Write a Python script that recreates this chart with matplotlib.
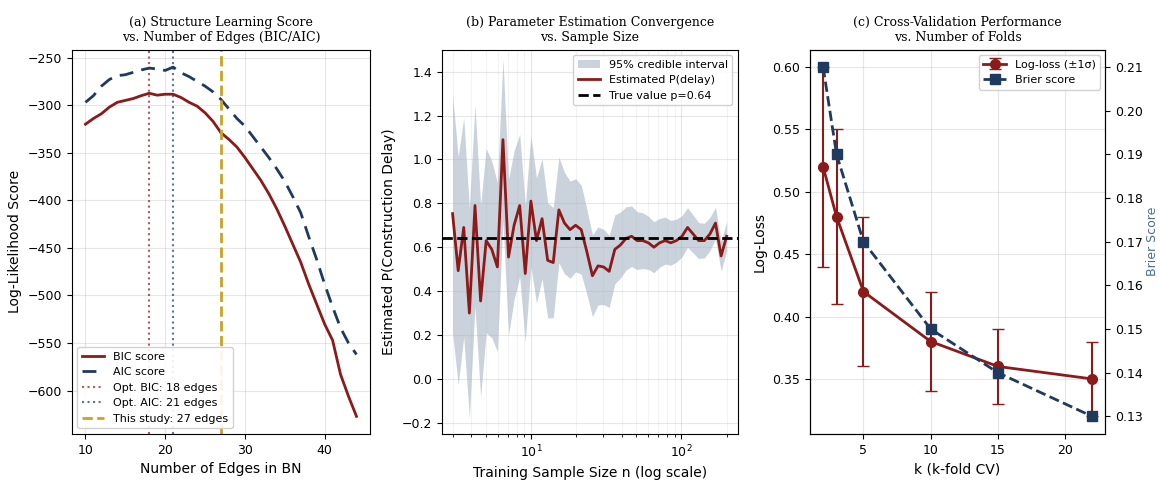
import matplotlib
matplotlib.use("Agg")
import matplotlib.pyplot as plt
from matplotlib.ticker import MultipleLocator
import numpy as np

# ---------------- data ----------------
# (a) structure learning
edges = list(range(10, 45))
bic = [-320, -314, -309, -302, -297, -295, -293, -290, -287.5, -289.5, -288.5, -288.5,
       -292, -297, -301, -308, -317, -329, -336, -344, -355, -367, -379, -393, -409,
       -427, -446, -465, -488, -509, -530, -547, -583, -606, -627]
aic = [-297, -290, -280, -273, -269, -268, -265.5, -263, -261, -262, -263.5, -260,
       -266, -270, -275, -280, -286, -294, -304, -314, -322, -333, -344, -355, -367,
       -380, -396, -413, -438, -462, -488, -512, -534, -550, -562]
opt_bic_edges = 18
opt_aic_edges = 21
study_edges = 27

# (b) parameter estimation convergence
sample_n = [3.00, 3.27, 3.56, 3.88, 4.23, 4.61, 5.02, 5.47, 5.96, 6.49,
            7.07, 7.70, 8.39, 9.14, 9.96, 10.85, 11.82, 12.88, 14.03, 15.29,
            16.66, 18.15, 19.77, 21.54, 23.47, 25.57, 27.86, 30.35, 33.06, 36.03,
            39.25, 42.76, 46.59, 50.76, 55.30, 60.25, 65.64, 71.52, 77.92, 84.89,
            92.48, 100.8, 109.8, 119.6, 130.3, 142.0, 154.7, 168.5, 183.6, 200.0]
p_est = [0.753, 0.493, 0.69, 0.30, 0.79, 0.355, 0.63, 0.59, 0.51, 1.09,
         0.555, 0.70, 0.79, 0.48, 0.81, 0.63, 0.73, 0.54, 0.53, 0.77,
         0.71, 0.68, 0.70, 0.68, 0.58, 0.47, 0.515, 0.51, 0.49, 0.59,
         0.61, 0.64, 0.65, 0.63, 0.63, 0.62, 0.60, 0.62, 0.63, 0.62,
         0.63, 0.65, 0.69, 0.66, 0.63, 0.63, 0.66, 0.71, 0.56, 0.65]
ci_half = [0.543, 0.520, 0.499, 0.478, 0.458, 0.438, 0.420, 0.402, 0.385, 0.369,
           0.354, 0.339, 0.325, 0.311, 0.298, 0.286, 0.274, 0.262, 0.251, 0.241,
           0.231, 0.221, 0.212, 0.203, 0.194, 0.186, 0.178, 0.171, 0.164, 0.157,
           0.150, 0.144, 0.138, 0.132, 0.127, 0.121, 0.116, 0.111, 0.107, 0.102,
           0.098, 0.094, 0.090, 0.086, 0.082, 0.079, 0.076, 0.072, 0.069, 0.067]
true_p = 0.64

# (c) cross-validation
k_folds = [2, 3, 5, 10, 15, 22]
logloss = [0.52, 0.48, 0.42, 0.38, 0.36, 0.35]
logloss_sd = [0.08, 0.07, 0.06, 0.04, 0.03, 0.03]
brier = [0.21, 0.19, 0.17, 0.15, 0.14, 0.13]

# ---------------- style ----------------
RED = "#8B1A1A"
NAVY = "#1F3A5F"
GOLD = "#C9A227"
plt.rcParams["font.family"] = ["DejaVu Sans"]
plt.rcParams["font.size"] = 9
title_font = dict(family="DejaVu Serif", fontsize=9)

fig = plt.figure(figsize=(11.6, 4.82), dpi=100)
ax1 = fig.add_axes([0.062, 0.100, 0.257, 0.797])
ax2 = fig.add_axes([0.381, 0.100, 0.255, 0.797])
ax3 = fig.add_axes([0.698, 0.100, 0.255, 0.797])

# ---------------- (a) ----------------
ax1.plot(edges, bic, color=RED, lw=2, label="BIC score")
ax1.plot(edges, aic, color=NAVY, lw=2, ls=(0, (5, 3)), label="AIC score")
ax1.axvline(opt_bic_edges, color=RED, ls=":", lw=1.5, alpha=0.7,
            label=f"Opt. BIC: {opt_bic_edges} edges")
ax1.axvline(opt_aic_edges, color=NAVY, ls=":", lw=1.5, alpha=0.7,
            label=f"Opt. AIC: {opt_aic_edges} edges")
ax1.axvline(study_edges, color=GOLD, ls="--", lw=2,
            label=f"This study: {study_edges} edges")
ax1.set_xlabel("Number of Edges in BN", fontsize=10)
ax1.set_ylabel("Log-Likelihood Score", fontsize=10)
ax1.set_title("(a) Structure Learning Score\nvs. Number of Edges (BIC/AIC)", **title_font)
ax1.grid(True, alpha=0.3)
ax1.legend(loc="lower left", fontsize=8, framealpha=0.9)

# ---------------- (b) ----------------
n_arr = np.array(sample_n)
est = np.array(p_est)
half = np.array(ci_half)
ax2.fill_between(n_arr, est - half, est + half, color="#9FAFBF", alpha=0.55,
                 lw=0, label="95% credible interval")
ax2.plot(n_arr, est, color=RED, lw=2, label="Estimated P(delay)")
ax2.axhline(true_p, color="black", ls="--", lw=2, label=f"True value p={true_p}")
ax2.set_xscale("log")
ax2.set_xlim(2.55, 237)
ax2.set_ylim(-0.25, 1.50)
ax2.yaxis.set_major_locator(MultipleLocator(0.2))
ax2.set_xlabel("Training Sample Size n (log scale)", fontsize=10)
ax2.set_ylabel("Estimated P(Construction Delay)", fontsize=10)
ax2.set_title("(b) Parameter Estimation Convergence\nvs. Sample Size", **title_font)
ax2.grid(True, which="major", alpha=0.3)
ax2.grid(True, which="minor", axis="x", alpha=0.15)
ax2.legend(loc="upper right", fontsize=8, framealpha=0.9)

# ---------------- (c) ----------------
ax3.errorbar(k_folds, logloss, yerr=logloss_sd, color=RED, marker="o", ms=7,
             lw=2, capsize=4, elinewidth=1.5, label="Log-loss (±1σ)")
ax3.set_xlabel("k (k-fold CV)", fontsize=10)
ax3.set_ylabel("Log-Loss", fontsize=10)
ax3.set_xticks([5, 10, 15, 20])
ax3.grid(True, alpha=0.3)
ax3.set_title("(c) Cross-Validation Performance\nvs. Number of Folds", **title_font)
ax3b = ax3.twinx()
ax3b.plot(k_folds, brier, color=NAVY, marker="s", ms=7, lw=2, ls="--",
          label="Brier score")
ax3b.set_ylabel("Brier Score", fontsize=9, color="#4A6F95", labelpad=2)
h1, l1 = ax3.get_legend_handles_labels()
h2, l2 = ax3b.get_legend_handles_labels()
ax3b.legend(h1 + h2, l1 + l2, loc="upper right", fontsize=8, framealpha=0.9)

fig.savefig("out.png", dpi=100)
